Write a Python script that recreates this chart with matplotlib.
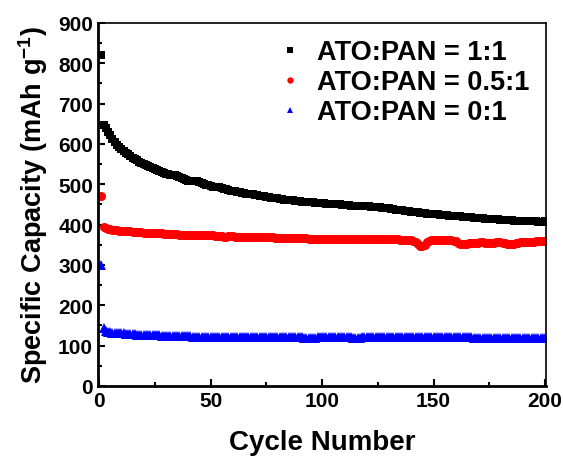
import numpy as np
import matplotlib
matplotlib.use("Agg")
import matplotlib.pyplot as plt
from matplotlib.ticker import MultipleLocator

plt.rcParams['font.family'] = ['Liberation Sans', 'DejaVu Sans']
plt.rcParams['font.weight'] = 'bold'
plt.rcParams['mathtext.fontset'] = 'custom'
plt.rcParams['mathtext.bf'] = 'Liberation Sans:bold'
plt.rcParams['mathtext.rm'] = 'Liberation Sans:bold'
plt.rcParams['mathtext.default'] = 'bf'

# cycle numbers 1..200
cycles = list(range(1, 201))

# ATO:PAN = 1:1
cap_1_1 = [
    820, 648, 640, 630, 622, 612, 604, 598, 592, 587,
    582, 578, 574, 570, 566, 563, 560, 556, 553, 551,
    548, 546, 543, 541, 538, 536, 534, 531, 528, 526,
    525, 524, 524, 523, 521, 518, 515, 512, 510, 509,
    508, 508, 508, 507, 506, 504, 501, 499, 497, 495,
    494, 493, 492, 492, 491, 489, 487, 486, 484, 483,
    482, 481, 480, 479, 478, 477, 476, 475, 475, 474,
    473, 472, 471, 470, 469, 468, 467, 467, 466, 465,
    464, 463, 462, 462, 461, 460, 460, 459, 458, 458,
    457, 457, 456, 456, 455, 455, 454, 454, 453, 453,
    453, 452, 452, 451, 451, 450, 450, 450, 449, 449,
    448, 448, 447, 447, 447, 446, 446, 446, 445, 445,
    445, 444, 444, 444, 443, 443, 442, 442, 441, 440,
    439, 438, 437, 436, 436, 435, 434, 434, 433, 432,
    431, 430, 430, 429, 428, 428, 427, 427, 426, 426,
    425, 425, 424, 424, 423, 423, 422, 422, 421, 421,
    420, 420, 419, 419, 419, 418, 418, 417, 417, 416,
    416, 416, 415, 415, 414, 414, 413, 413, 413, 412,
    412, 412, 411, 411, 411, 410, 410, 410, 409, 409,
    409, 409, 408, 408, 408, 408, 407, 407, 407, 408,
]

# ATO:PAN = 0.5:1
cap_05_1 = [
    470, 394, 391, 389, 388, 387, 386, 386, 385, 385,
    384, 384, 383, 383, 382, 382, 381, 381, 381, 380,
    380, 380, 379, 379, 379, 378, 378, 378, 377, 377,
    377, 377, 376, 376, 376, 375, 374, 374, 375, 375,
    375, 375, 375, 374, 374, 374, 373, 373, 373, 373,
    373, 372, 372, 372, 371, 370, 370, 371, 371, 371,
    370, 370, 370, 370, 370, 369, 369, 369, 369, 369,
    369, 369, 368, 368, 368, 368, 368, 368, 367, 367,
    367, 367, 367, 366, 366, 366, 366, 366, 366, 366,
    366, 366, 366, 365, 365, 365, 365, 365, 365, 365,
    365, 365, 365, 365, 365, 365, 364, 364, 364, 364,
    364, 364, 364, 364, 364, 364, 364, 364, 364, 364,
    364, 364, 364, 364, 364, 363, 363, 363, 363, 363,
    363, 363, 363, 363, 362, 362, 362, 362, 362, 361,
    360, 357, 352, 347, 346, 350, 356, 360, 362, 362,
    362, 362, 362, 362, 362, 361, 361, 361, 360, 358,
    354, 352, 352, 353, 353, 354, 354, 355, 355, 355,
    356, 356, 355, 355, 354, 354, 355, 356, 356, 356,
    355, 354, 353, 352, 352, 353, 354, 355, 356, 356,
    356, 357, 357, 357, 357, 358, 358, 358, 358, 358,
]

# ATO:PAN = 0:1
cap_0_1 = [
    300, 143, 137, 134, 133, 132, 132, 131, 131, 130,
    130, 129, 129, 128, 128, 128, 127, 127, 127, 126,
    126, 126, 126, 125, 125, 125, 125, 124, 124, 124,
    124, 124, 124, 123, 123, 123, 123, 123, 123, 123,
    123, 122, 122, 122, 122, 122, 122, 122, 122, 122,
    122, 122, 122, 122, 121, 121, 121, 121, 121, 121,
    121, 121, 121, 121, 121, 121, 121, 121, 121, 121,
    121, 121, 120, 120, 120, 120, 120, 120, 120, 120,
    120, 120, 120, 120, 120, 120, 120, 120, 120, 120,
    120, 119, 119, 119, 119, 119, 119, 120, 120, 120,
    120, 120, 120, 120, 120, 120, 120, 120, 120, 120,
    120, 120, 120, 119, 119, 119, 119, 120, 120, 120,
    120, 120, 120, 120, 120, 120, 120, 120, 120, 120,
    120, 120, 120, 120, 120, 120, 120, 120, 120, 120,
    120, 120, 120, 120, 120, 120, 120, 120, 120, 120,
    120, 120, 120, 120, 120, 120, 120, 120, 120, 120,
    120, 120, 120, 120, 120, 120, 120, 119, 119, 119,
    119, 119, 119, 119, 119, 119, 119, 119, 119, 119,
    119, 119, 119, 119, 119, 119, 119, 119, 119, 119,
    119, 119, 119, 119, 119, 119, 119, 119, 119, 119,
]

fig = plt.figure(figsize=(5.63, 4.60), dpi=100)
ax = fig.add_axes([0.174, 0.159, 0.796, 0.789])

ax.plot(cycles, cap_1_1, 's', color='black', ms=5.5, mew=0, label='ATO:PAN = 1:1')
ax.plot(cycles, cap_05_1, 'o', color='red', ms=6.5, mew=0, label='ATO:PAN = 0.5:1')
ax.plot(cycles, cap_0_1, '^', color='blue', ms=7, mew=0, label='ATO:PAN = 0:1')

ax.set_xlim(-0.5, 200.5)
ax.set_ylim(0, 900)
ax.xaxis.set_major_locator(MultipleLocator(50))
ax.xaxis.set_minor_locator(MultipleLocator(25))
ax.yaxis.set_major_locator(MultipleLocator(100))
ax.yaxis.set_minor_locator(MultipleLocator(50))
ax.tick_params(which='both', direction='in', top=False, right=False, labelsize=15, width=1.5)
ax.tick_params(which='major', length=5)
ax.tick_params(which='minor', length=3)
for lbl in ax.get_xticklabels() + ax.get_yticklabels():
    lbl.set_fontweight('bold')

ax.spines['left'].set_linewidth(2)
ax.spines['bottom'].set_linewidth(2)
ax.spines['top'].set_linewidth(1.2)
ax.spines['right'].set_linewidth(1.2)

ax.set_xlabel('Cycle Number', fontsize=20, fontweight='bold', labelpad=14)
ax.set_ylabel(r'Specific Capacity (mAh g$^{-1}$)', fontsize=19.5, fontweight='bold', labelpad=6)

ax.legend(loc='upper right', frameon=False, fontsize=19.5, markerscale=0.7,
          handlelength=0.8, handletextpad=0.6, labelspacing=0.15,
          borderaxespad=0.2)

fig.savefig('out.png', dpi=100)
